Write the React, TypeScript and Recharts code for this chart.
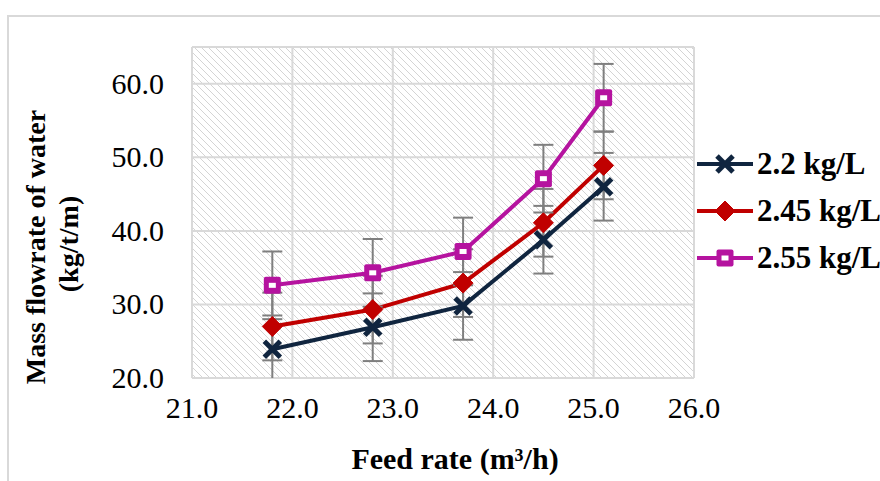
import { LineChart, Line, XAxis, YAxis, CartesianGrid, ErrorBar, Legend } from 'recharts';

const feedRates = [21.8, 22.8, 23.7, 24.5, 25.1];
const flow22 = [23.9, 26.9, 29.8, 38.8, 46.0];
const flow245 = [27.0, 29.3, 32.9, 41.1, 48.9];
const flow255 = [32.6, 34.3, 37.2, 47.1, 58.1];
const err22 = [4.6, 4.6, 4.6, 4.6, 4.6];
const err245 = [4.6, 4.6, 4.6, 4.6, 4.6];
const err255 = [4.6, 4.6, 4.6, 4.6, 4.6];
const xTicks = [21, 22, 23, 24, 25, 26];
const yTicks = [20, 30, 40, 50, 60];

const NAVY = '#10253f';
const RED = '#c00000';
const MAGENTA = '#b5139f';
const FONT = 'Liberation Serif, Times New Roman, serif';

const series = [
  { key: 'a', err: 'ea', name: '2.2 kg/L', color: NAVY, shape: 'x' },
  { key: 'b', err: 'eb', name: '2.45 kg/L', color: RED, shape: 'diamond' },
  { key: 'c', err: 'ec', name: '2.55 kg/L', color: MAGENTA, shape: 'square' },
];

const data = feedRates.map((x, i) => ({
  x,
  a: flow22[i],
  b: flow245[i],
  c: flow255[i],
  ea: err22[i],
  eb: err245[i],
  ec: err255[i],
}));

function Marker({ shape, color, cx, cy }: { shape: string; color: string; cx: number; cy: number }) {
  if (shape === 'x') {
    return (
      <g>
        <line x1={cx - 8} y1={cy - 8} x2={cx + 8} y2={cy + 8} stroke={color} strokeWidth={5} />
        <line x1={cx - 8} y1={cy + 8} x2={cx + 8} y2={cy - 8} stroke={color} strokeWidth={5} />
      </g>
    );
  }
  if (shape === 'diamond') {
    return (
      <path
        d={`M${cx},${cy - 10} L${cx + 10},${cy} L${cx},${cy + 10} L${cx - 10},${cy} Z`}
        fill={color}
        stroke={color}
        strokeWidth={1}
        strokeLinejoin="round"
      />
    );
  }
  return (
    <g>
      <rect x={cx - 8.5} y={cy - 8.5} width={17} height={17} rx={2} fill={color} />
      <rect x={cx - 3.5} y={cy - 2.5} width={7} height={5} fill="#fff" />
    </g>
  );
}

function makeDot(shape: string, color: string) {
  return (props: any) => {
    const { cx, cy, index } = props;
    if (cx == null || cy == null) return <g key={index} />;
    return <Marker key={index} shape={shape} color={color} cx={cx} cy={cy} />;
  };
}

const tickStyle = { fontFamily: FONT, fontSize: 30, fill: '#000' };

function renderXTick(props: any) {
  const { x, y, payload, index } = props;
  return (
    <text key={index} x={x} y={y + 32} textAnchor="middle" style={tickStyle}>
      {Number(payload.value).toFixed(1)}
    </text>
  );
}

function renderYTick(props: any) {
  const { y, payload, index } = props;
  return (
    <text key={index} x={164} y={y + 10} textAnchor="end" style={tickStyle}>
      {Number(payload.value).toFixed(1)}
    </text>
  );
}

function LegendBox() {
  return (
    <div style={{ fontFamily: FONT, fontWeight: 'bold', fontSize: 31, color: '#000' }}>
      {series.map((s) => (
        <div key={s.key} style={{ display: 'flex', alignItems: 'center', height: 47, whiteSpace: 'nowrap' }}>
          <svg width={58} height={24} style={{ display: 'block' }}>
            <line x1={0} y1={12} x2={56} y2={12} stroke={s.color} strokeWidth={4} />
            <Marker shape={s.shape} color={s.color} cx={28} cy={12} />
          </svg>
          <span style={{ marginLeft: 2 }}>{s.name}</span>
        </div>
      ))}
    </div>
  );
}

function YTitle() {
  return (
    <g style={{ fontFamily: FONT, fontWeight: 'bold', fontSize: 28, fill: '#000' }}>
      <text x={45} y={247} textAnchor="middle" transform="rotate(-90 45 247)">
        Mass flowrate of water
      </text>
      <text x={78} y={244} textAnchor="middle" transform="rotate(-90 78 244)">
        (kg/t/m)
      </text>
    </g>
  );
}

export default function App() {
  return (
    <div
      style={{
        position: 'absolute',
        left: 0,
        top: 0,
        width: 880,
        height: 481,
        overflow: 'hidden',
        background: '#fff',
      }}
    >
      <style>{'.recharts-errorBars { clip-path: url(#plotClip); }'}</style>
      <div
        style={{
          position: 'absolute',
          left: 7,
          top: 15,
          width: 900,
          height: 500,
          border: '2px solid #d9d9d9',
        }}
      />
      <div style={{ position: 'absolute', left: 0, top: 0 }}>
        <LineChart width={880} height={481} data={data} margin={{ top: 47, right: 186, bottom: 0, left: 0 }}>
          <defs>
            <pattern id="hatch" patternUnits="userSpaceOnUse" width={7} height={7}>
              <path d="M0,0 L7,7 M-1,6 L1,8 M6,-1 L8,1" stroke="#d4d4d4" strokeWidth={1} />
            </pattern>
            <clipPath id="plotClip">
              <rect x={192} y={40} width={502} height={338} />
            </clipPath>
          </defs>
          <CartesianGrid stroke="#d9d9d9" strokeWidth={2} fill="url(#hatch)" fillOpacity={1} />
          <XAxis
            type="number"
            dataKey="x"
            domain={[21, 26]}
            ticks={xTicks}
            axisLine={false}
            tickLine={false}
            height={103}
            tick={renderXTick}
            label={{
              content: () => (
                <text
                  x={455}
                  y={469}
                  textAnchor="middle"
                  style={{ fontFamily: FONT, fontWeight: 'bold', fontSize: 30, fill: '#000' }}
                >
                  Feed rate (m³/h)
                </text>
              ),
            }}
          />
          <YAxis
            type="number"
            domain={[20, 65]}
            ticks={yTicks}
            allowDataOverflow
            axisLine={false}
            tickLine={false}
            width={192}
            tick={renderYTick}
            label={{ content: () => <YTitle /> }}
          />
          {series.map((s) => (
            <Line
              key={s.key}
              type="linear"
              dataKey={s.key}
              name={s.name}
              stroke={s.color}
              strokeWidth={4}
              dot={makeDot(s.shape, s.color)}
              activeDot={false}
              isAnimationActive={false}
            >
              <ErrorBar dataKey={s.err} direction="y" width={10} strokeWidth={2} stroke="#7f7f7f" />
            </Line>
          ))}
          <Legend
            layout="vertical"
            align="center"
            verticalAlign="middle"
            content={() => <LegendBox />}
            wrapperStyle={{ left: 697, top: 140, width: 200 }}
          />
        </LineChart>
      </div>
    </div>
  );
}
